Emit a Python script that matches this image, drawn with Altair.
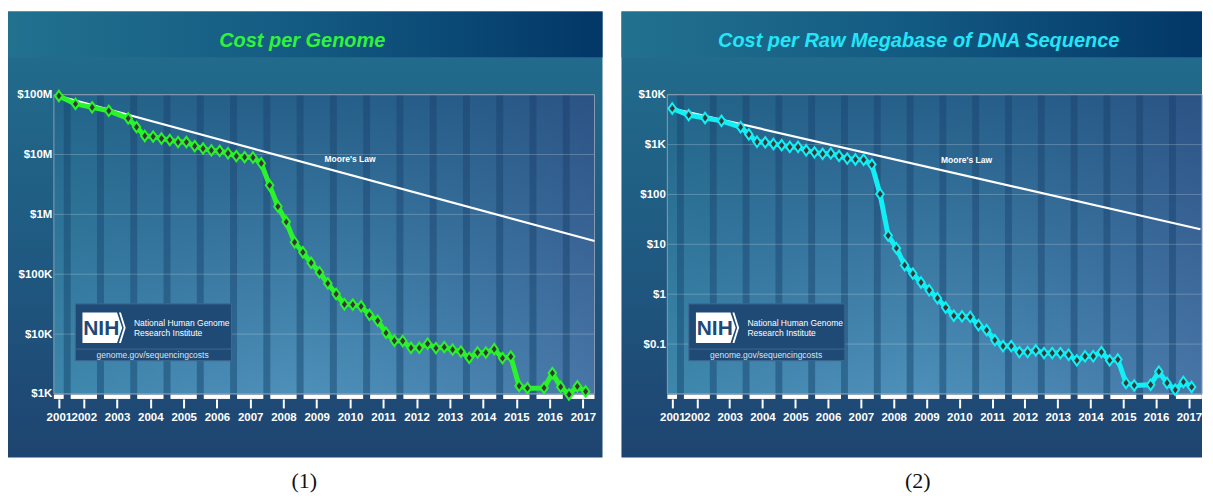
import math
import altair as alt
import pandas as pd

# ---------------- data ----------------
dates = ["2001-09", "2002-03", "2002-09", "2003-03", "2003-10",
         "2004-01", "2004-04", "2004-07", "2004-10",
         "2005-01", "2005-04", "2005-07", "2005-10",
         "2006-01", "2006-04", "2006-07", "2006-10",
         "2007-01", "2007-04", "2007-07", "2007-10",
         "2008-01", "2008-04", "2008-07", "2008-10",
         "2009-01", "2009-04", "2009-07", "2009-10",
         "2010-01", "2010-04", "2010-07", "2010-10",
         "2011-01", "2011-04", "2011-07", "2011-10",
         "2012-01", "2012-04", "2012-07", "2012-10",
         "2013-01", "2013-04", "2013-07", "2013-10",
         "2014-01", "2014-04", "2014-07", "2014-10",
         "2015-01", "2015-04", "2015-07", "2015-10",
         "2016-04", "2016-07", "2016-10",
         "2017-01", "2017-04", "2017-07"]

cost_per_genome = [95263072, 70175437, 61448422, 53751684, 40153733,
                   28780376, 20442576, 19934346, 18519312,
                   17534970, 16159699, 16180224, 13801124,
                   12585659, 11732535, 11500000, 10500000,
                   9408739, 9047003, 8927342, 7147571,
                   3063820, 1352982, 752080, 342502,
                   232735, 154714, 108065, 70333,
                   46774, 31512, 31125, 29092,
                   20963, 16712, 10497, 7743,
                   7666, 5900, 5900, 6900,
                   5830, 6070, 5500, 5100,
                   4000, 4920, 4900, 5600,
                   3970, 4210, 1360, 1250,
                   1260, 2230, 1310,
                   980, 1340, 1100]

cost_per_megabase = [5292, 3899, 3414, 2986, 2231,
                     1599, 1136, 1107, 1029,
                     974, 898, 899, 767,
                     699, 652, 664, 593,
                     523, 503, 496, 397,
                     102, 15.0, 8.36, 3.81,
                     2.59, 1.72, 1.20, 0.83,
                     0.54, 0.37, 0.36, 0.35,
                     0.24, 0.19, 0.12, 0.091,
                     0.091, 0.069, 0.069, 0.075,
                     0.066, 0.066, 0.066, 0.061,
                     0.047, 0.057, 0.057, 0.069,
                     0.047, 0.049, 0.0166, 0.0148,
                     0.0153, 0.028, 0.0166,
                     0.0121, 0.0174, 0.0138]

year_labels = list(range(2001, 2018))
genome_ticks = [1e3, 1e4, 1e5, 1e6, 1e7, 1e8]
genome_tick_labels = ["$1K", "$10K", "$100K", "$1M", "$10M", "$100M"]
genome_grid = [1e3, 1e4, 1e5, 1e6, 1e7, 1e8]
megabase_ticks = [0.1, 1, 10, 100, 1000, 10000]
megabase_tick_labels = ["$0.1", "$1", "$10", "$100", "$1K", "$10K"]
megabase_grid = [0.01, 0.1, 1, 10, 100, 1000, 10000]

moore_years = [2001.75, 2017.85]
moore_genome = [9.5e7, 3.6e5]
moore_megabase = [5292, 20]
moore_label_genome = [2010.5, 8.3e6]
moore_label_megabase = [2010.72, 480]

titles = ["Cost per Genome", "Cost per Raw Megabase of DNA Sequence"]
captions = ["(1)", "(2)"]

# ---------------- layout / style ----------------
PH = 447
PX0 = 46
PY0, PY1 = 83.3, 383.3
X_START = 2001.6
FONT = "Liberation Sans, Arial, sans-serif"
NARROW = "Liberation Sans Narrow, Arial Narrow, Liberation Sans, sans-serif"
SERIF = "Liberation Serif, Times New Roman, serif"
DIAMOND = "M0,-1L0.72,0L0,1L-0.72,0Z"
NIH_SHAPE = ("M-1,-0.707L0.6,-0.707L0.84,0L0.6,0.707L-1,0.707Z "
             "M0.69,-0.707L0.78,-0.707L1,0L0.78,0.707L0.69,0.707L0.91,0Z")
ONE = alt.Data(values=[{"k": 0}])


def frac_year(d):
    y, m = d.split("-")
    return int(y) + int(m) / 12.0


def lin_grad(stops, horizontal):
    return alt.Gradient(
        gradient="linear",
        stops=[alt.GradientStop(color=c, offset=o) for o, c in stops],
        x1=0, y1=0, x2=1 if horizontal else 0, y2=0 if horizontal else 1,
    )


def label_expr(ticks, labels):
    parts = [f"abs(log(datum.value)/LN10 - ({math.log10(v):.4f})) < 0.01 ? '{lab}'"
             for v, lab in zip(ticks, labels)]
    return " : ".join(parts) + " : ''"


def box(x0, x1, y0, y1, **mark):
    return alt.Chart(ONE).mark_rect(**mark).encode(
        x=alt.value(x0), x2=alt.value(x1), y=alt.value(y0), y2=alt.value(y1))


def text(txt, x, y, **mark):
    return alt.Chart(ONE).mark_text(text=txt, **mark).encode(
        x=alt.value(x), y=alt.value(y))


def panel(pw, px1, x_end, title, title_x, title_color, line_color, values, y_domain,
          ticks, tick_labels, grid_vals, moore_vals, moore_lab, caption, caption_x):
    xs = alt.Scale(domain=[X_START, x_end], range=[PX0, px1], nice=False, zero=False)
    ys = alt.Scale(type="log", domain=y_domain, range=[PY1, PY0], nice=False)

    x_axis = alt.Axis(values=[2001.75] + [y + 0.5 for y in year_labels[1:]],
                      labelExpr="'' + floor(datum.value)", orient="bottom",
                      offset=-(PH - 388.3), domain=False, ticks=True,
                      tickColor="white", tickWidth=2, tickSize=9,
                      labelColor="white", labelFont=FONT, labelFontWeight="bold",
                      labelFontSize=11.5, labelPadding=3.5, grid=False,
                      labelOverlap=False, labelFlush=False, title=None, zindex=1)
    y_axis = alt.Axis(values=ticks, labelExpr=label_expr(ticks, tick_labels),
                      orient="left", offset=-PX0, domain=False, ticks=False,
                      labelColor="white", labelFont=FONT, labelFontWeight="bold",
                      labelFontSize=11.5, labelPadding=2, grid=False,
                      labelOverlap=False, labelFlush=False, title=None, zindex=1)

    def X(f):
        return alt.X(f, scale=xs, axis=x_axis)

    def Y(f):
        return alt.Y(f, scale=ys, axis=y_axis)

    df = pd.DataFrame({"t": [frac_year(d) for d in dates], "v": values})

    bg = box(0, pw, 0, PH, fill=lin_grad(
        [(0, "#236f8e"), (0.2, "#216789"), (0.55, "#1f5981"),
         (0.85, "#1e4b76"), (1, "#1e4570")], False))
    band = box(0, pw, 0, 45.7, fill=lin_grad(
        [(0, "#22718f"), (0.5, "#135a82"), (1, "#023768")], True))
    plot_bg = box(PX0, px1, PY0, PY1, fill=lin_grad(
        [(0, "#255f88"), (1, "#4d90b9")], False))
    plot_tint = box(PX0, px1, PY0, PY1, fill=lin_grad(
        [(0, "rgba(25,115,140,0.30)"), (0.45, "rgba(40,90,140,0.0)"),
         (1, "rgba(60,55,125,0.30)")], True))

    stripe_df = pd.DataFrame({"b": year_labels[1:]})
    stripe_df["b0"] = stripe_df["b"] - 0.105
    stripe_df["b1"] = stripe_df["b"] + 0.105
    stripes = alt.Chart(stripe_df).mark_rect(fill=lin_grad(
        [(0, "rgba(15,45,90,0.28)"), (1, "rgba(20,70,110,0.5)")], False)).encode(
        x=X("b0:Q"), x2="b1:Q", y=alt.value(PY0), y2=alt.value(PY1))

    grid = alt.Chart(pd.DataFrame({"g": grid_vals})).mark_rule(
        color="white", opacity=0.22, strokeWidth=1).encode(
        y=Y("g:Q"), x=alt.value(PX0), x2=alt.value(px1))

    border = box(PX0, px1, PY0, PY1, fill="white", fillOpacity=0,
                 stroke="#8b9bb0", strokeWidth=1)

    blk = pd.DataFrame({"y": year_labels})
    blk["x0"] = [max(y + 0.105, X_START) for y in year_labels]
    blk["x1"] = [min(y + 0.895, x_end) for y in year_labels]
    blocks = alt.Chart(blk).mark_rect(fill="white").encode(
        x=X("x0:Q"), x2="x1:Q", y=alt.value(384), y2=alt.value(388.3))

    moore_df = pd.DataFrame({"t": moore_years, "v": moore_vals})
    moore = alt.Chart(moore_df).mark_line(
        color="white", strokeWidth=2.2).encode(x=X("t:Q"), y=Y("v:Q"))
    moore_text = alt.Chart(pd.DataFrame({"t": [moore_lab[0]], "v": [moore_lab[1]]})).mark_text(
        text="Moore's Law", font=NARROW, fontSize=8.5, fontWeight="bold",
        color="white").encode(x=X("t:Q"), y=Y("v:Q"))

    # NIH logo box
    nih_box = box(67.5, 224, 293, 350, fill="#1f4a76", stroke="#3f6992", strokeWidth=1)
    nih_sep = alt.Chart(ONE).mark_rule(color="#3f6992", strokeWidth=1).encode(
        x=alt.value(67.5), x2=alt.value(224), y=alt.value(338.3))
    nih_logo = alt.Chart(ONE).mark_point(shape=NIH_SHAPE, size=1875, filled=True,
                                         fill="white", opacity=1, strokeWidth=0).encode(
        x=alt.value(96.3), y=alt.value(317))
    nih_letters = text("NIH", 93.5, 318.5, font=NARROW, fontSize=21, fontWeight="bold",
                       color="#1f4a76", align="center", baseline="middle")
    nih_l1 = text("National Human Genome", 126.3, 311.7, font=FONT, fontSize=8.5,
                  color="white", align="left", baseline="middle")
    nih_l2 = text("Research Institute", 126.3, 322.5, font=FONT, fontSize=8.5,
                  color="white", align="left", baseline="middle")
    nih_url = text("genome.gov/sequencingcosts", 145, 344, font=FONT, fontSize=8.5,
                   color="#dbe4ee", align="center", baseline="middle")

    line = alt.Chart(df).mark_line(color=line_color, strokeWidth=5,
                                   strokeJoin="round").encode(x=X("t:Q"), y=Y("v:Q"))
    pts = alt.Chart(df).mark_point(shape=DIAMOND, size=110, filled=True, fill="#363636",
                                   stroke=line_color, strokeWidth=2, opacity=1).encode(
        x=X("t:Q"), y=Y("v:Q"))

    title_txt = text(title, title_x, 35, font=FONT, fontSize=20, fontWeight="bold",
                     fontStyle="italic", color=title_color, align="center",
                     baseline="alphabetic")
    cap = text(caption, caption_x, 478, font=SERIF, fontSize=22, color="#111111",
               align="center", baseline="alphabetic")

    return alt.layer(bg, band, plot_bg, plot_tint, stripes, grid, border, blocks,
                     moore, moore_text, nih_box, nih_sep, nih_logo, nih_letters,
                     nih_l1, nih_l2, nih_url, line, pts, title_txt, cap
                     ).properties(width=pw, height=PH)


# panel 1: 33.35 px per year; panel 2 squeezed slightly so the page is not wider
# than the body (1197 px)
p1 = panel(596, 588, 2017.85, titles[0], 295, "#30f23a", "#2bf32b", cost_per_genome,
           [1e3, 1e8], genome_ticks, genome_tick_labels, genome_grid, moore_genome,
           moore_label_genome, captions[0], 297)
p2 = panel(582, 582, 2017.9, titles[1], 298, "#22e6f7", "#12eff5", cost_per_megabase,
           [0.01, 1e4], megabase_ticks, megabase_tick_labels, megabase_grid,
           moore_megabase, moore_label_megabase, captions[1], 297)

chart = alt.hconcat(p1, p2, spacing=19).properties(
    padding={"left": 0, "top": 3, "right": 0, "bottom": 0},
    background="white",
).configure_view(strokeWidth=0)

chart.save("out.html", embed_options={"renderer": "svg", "actions": False})
